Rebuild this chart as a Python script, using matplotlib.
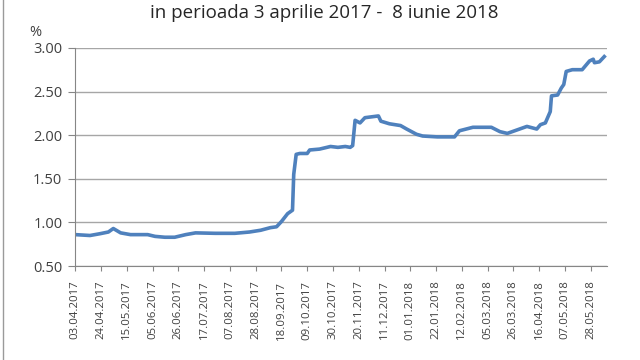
import pandas as pd
import matplotlib.pyplot as plt
import matplotlib.dates as mdates
from matplotlib.lines import Line2D

# values (date, percent)
dates = ['03.04.2017', '15.04.2017', '23.04.2017', '30.04.2017', '04.05.2017',
         '10.05.2017', '18.05.2017', '01.06.2017', '07.06.2017', '15.06.2017',
         '23.06.2017', '02.07.2017', '10.07.2017', '26.07.2017', '11.08.2017',
         '23.08.2017', '01.09.2017', '09.09.2017', '14.09.2017', '18.09.2017',
         '23.09.2017', '27.09.2017', '28.09.2017', '30.09.2017', '03.10.2017',
         '09.10.2017', '11.10.2017', '19.10.2017', '28.10.2017', '03.11.2017',
         '09.11.2017', '13.11.2017', '15.11.2017', '17.11.2017', '21.11.2017',
         '25.11.2017', '06.12.2017', '08.12.2017', '15.12.2017', '24.12.2017',
         '29.12.2017', '06.01.2018', '11.01.2018', '23.01.2018', '06.02.2018',
         '10.02.2018', '21.02.2018', '08.03.2018', '15.03.2018', '21.03.2018',
         '29.03.2018', '06.04.2018', '14.04.2018', '17.04.2018', '21.04.2018',
         '25.04.2018', '26.04.2018', '01.05.2018', '04.05.2018', '06.05.2018',
         '08.05.2018', '13.05.2018', '21.05.2018', '27.05.2018', '30.05.2018',
         '31.05.2018', '04.06.2018', '08.06.2018']
values = [0.86, 0.85, 0.87, 0.89, 0.93,
          0.88, 0.86, 0.86, 0.84, 0.83,
          0.83, 0.86, 0.88, 0.875, 0.875,
          0.89, 0.91, 0.94, 0.95, 1.01,
          1.10, 1.14, 1.55, 1.78, 1.79,
          1.79, 1.83, 1.84, 1.87, 1.86,
          1.87, 1.86, 1.88, 2.17, 2.14,
          2.20, 2.22, 2.16, 2.13, 2.11,
          2.07, 2.01, 1.99, 1.98, 1.98,
          2.05, 2.09, 2.09, 2.04, 2.02,
          2.06, 2.10, 2.07, 2.12, 2.14,
          2.27, 2.45, 2.46, 2.54, 2.58,
          2.73, 2.75, 2.75, 2.85, 2.87,
          2.83, 2.84, 2.90]

title = "in perioada 3 aprilie 2017 -  8 iunie 2018"
y_ticks = [0.5, 1.0, 1.5, 2.0, 2.5, 3.0]

x = pd.to_datetime(dates, format='%d.%m.%Y')
tick_dates = pd.date_range('2017-04-03', '2018-05-28', freq='21D')

plt.rcParams['font.family'] = ['Open Sans', 'DejaVu Sans']

fig = plt.figure(figsize=(6.4, 3.6), dpi=100)
ax = fig.add_axes([0.117, 0.261, 0.831, 0.606])

ax.plot(x, values, color='#4f81bd', linewidth=2.6, solid_joinstyle='round')

ax.set_ylim(0.5, 3.0)
ax.set_yticks(y_ticks)
ax.set_yticklabels([f"{v:.2f}" for v in y_ticks], fontsize=10.5, color='#404040')
ax.yaxis.grid(True, color='#a6a6a6', linewidth=1)
ax.set_axisbelow(True)

ax.set_xlim(tick_dates[0] - pd.Timedelta(days=0.3), tick_dates[0] + pd.Timedelta(days=433))
ax.set_xticks(tick_dates)
ax.xaxis.set_major_formatter(mdates.DateFormatter('%d.%m.%Y'))
plt.setp(ax.get_xticklabels(), rotation=90, fontsize=8.2, color='#404040')

for side in ['top', 'right']:
    ax.spines[side].set_visible(False)
for side in ['left', 'bottom']:
    ax.spines[side].set_color('#868686')
ax.tick_params(axis='y', color='#868686', length=5, direction='out', pad=4)
ax.tick_params(axis='x', color='#868686', length=3.5, direction='out', pad=7)

fig.text(0.507, 0.965, title, ha='center', va='center', fontsize=13.5, color='#262626')
fig.text(0.045, 0.91, '%', ha='left', va='center', fontsize=10.5, color='#404040')
fig.add_artist(Line2D([0.004, 0.004], [0, 1], transform=fig.transFigure, color='#9a9a9a', linewidth=1))

fig.savefig('out.png', dpi=100)
